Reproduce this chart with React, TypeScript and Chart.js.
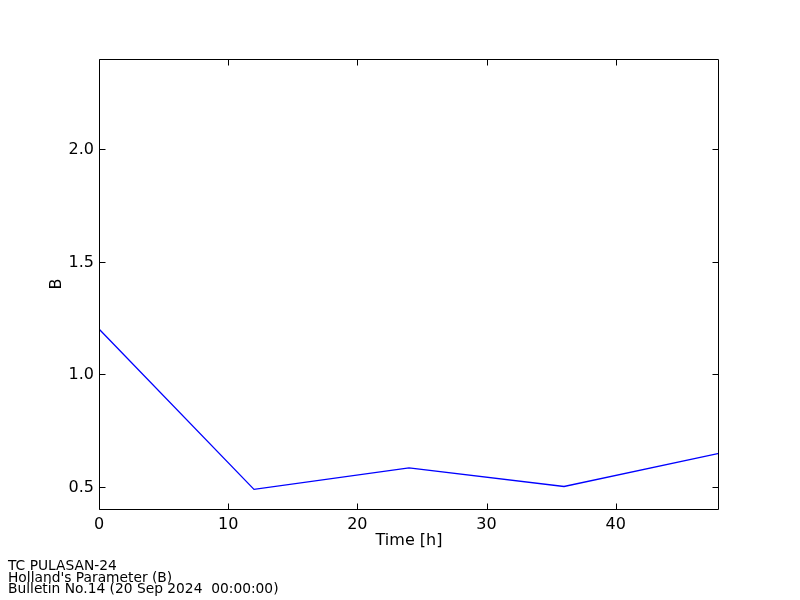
import React, { useEffect, useRef } from "react";
import { Chart, registerables } from "chart.js";

Chart.register(...registerables);

const hours = [0, 12, 24, 36, 48];
const bValues = [1.2, 0.487, 0.583, 0.5, 0.647];
const xTicks = [0, 10, 20, 30, 40];
const yTicks = [0.5, 1.0, 1.5, 2.0];
const xRange = [0, 48];
const yRange = [0.4, 2.4];
const xTitle = "Time [h]";
const yTitle = "B";
const footerLines = [
  "TC PULASAN-24",
  "Holland's Parameter (B)",
  "Bulletin No.14 (20 Sep 2024  00:00:00)",
];

const FONT = "'DejaVu Sans', sans-serif";

const framePlugin = {
  id: "frame",
  afterDraw(chart: any) {
    const { ctx, chartArea } = chart;
    const { left, right, top, bottom } = chartArea;
    const xs = chart.scales.x;
    const ys = chart.scales.y;
    const L = Math.round(left) + 0.5;
    const R = Math.round(right) - 0.5;
    const T = Math.round(top) + 0.5;
    const B = Math.round(bottom) + 0.5;
    const len = 6;
    ctx.save();
    ctx.strokeStyle = "#000";
    ctx.lineWidth = 1;
    ctx.beginPath();
    ctx.moveTo(L, T);
    ctx.lineTo(R, T);
    ctx.lineTo(R, B);
    ctx.lineTo(L, B);
    ctx.closePath();
    ctx.stroke();
    ctx.beginPath();
    xTicks.forEach((v) => {
      const px = Math.round(xs.getPixelForValue(v)) + 0.5;
      ctx.moveTo(px, B);
      ctx.lineTo(px, B - len);
      ctx.moveTo(px, T);
      ctx.lineTo(px, T + len);
    });
    yTicks.forEach((v) => {
      const py = Math.round(ys.getPixelForValue(v)) + 0.5;
      ctx.moveTo(L, py);
      ctx.lineTo(L + len, py);
      ctx.moveTo(R, py);
      ctx.lineTo(R - len, py);
    });
    ctx.stroke();
    ctx.restore();
  },
};

export default function App() {
  const canvasRef = useRef<HTMLCanvasElement | null>(null);

  useEffect(() => {
    const canvas = canvasRef.current;
    if (!canvas) return;
    const chart = new Chart(canvas, {
      type: "line",
      data: {
        datasets: [
          {
            data: hours.map((h, i) => ({ x: h, y: bValues[i] })),
            borderColor: "#0000ff",
            borderWidth: 1.3,
            pointRadius: 0,
            fill: false,
            tension: 0,
          },
        ],
      },
      options: {
        animation: false,
        responsive: false,
        maintainAspectRatio: false,
        devicePixelRatio: 1,
        layout: { padding: { left: 0, top: 59, right: 81, bottom: 0 } },
        plugins: {
          legend: { display: false },
          tooltip: { enabled: false },
        },
        scales: {
          x: {
            type: "linear",
            min: xRange[0],
            max: xRange[1],
            grid: { display: false, drawTicks: false },
            border: { display: false },
            afterBuildTicks: (s: any) => {
              s.ticks = xTicks.map((v) => ({ value: v }));
            },
            afterFit: (s: any) => {
              s.height = 91;
            },
            ticks: {
              color: "#000",
              padding: 6,
              maxRotation: 0,
              autoSkip: false,
              font: { family: FONT, size: 16 },
              callback: (v: any) => String(v),
            },
            title: {
              display: true,
              text: xTitle,
              color: "#000",
              font: { family: FONT, size: 16 },
              padding: { top: 0, bottom: 50 },
            },
          },
          y: {
            type: "linear",
            min: yRange[0],
            max: yRange[1],
            grid: { display: false, drawTicks: false },
            border: { display: false },
            afterBuildTicks: (s: any) => {
              s.ticks = yTicks.map((v) => ({ value: v }));
            },
            afterFit: (s: any) => {
              s.width = 99;
            },
            ticks: {
              color: "#000",
              padding: 5,
              labelOffset: 1,
              autoSkip: false,
              font: { family: FONT, size: 16 },
              callback: (v: any) => Number(v).toFixed(1),
            },
            title: {
              display: true,
              text: yTitle,
              color: "#000",
              font: { family: FONT, size: 16 },
              padding: { top: 47, bottom: 0 },
            },
          },
        },
      },
      plugins: [framePlugin],
    });
    return () => chart.destroy();
  }, []);

  return (
    <div
      style={{
        position: "fixed",
        left: 0,
        top: 0,
        width: 800,
        height: 600,
        background: "#fff",
        overflow: "hidden",
      }}
    >
      <canvas ref={canvasRef} width={800} height={600} style={{ display: "block" }} />
      <div
        style={{
          position: "absolute",
          left: 8,
          top: 560,
          fontFamily: FONT,
          fontSize: 13.8,
          lineHeight: "11.7px",
          whiteSpace: "pre",
          color: "#000",
        }}
      >
        {footerLines.map((t, i) => (
          <div key={i}>{t}</div>
        ))}
      </div>
    </div>
  );
}
